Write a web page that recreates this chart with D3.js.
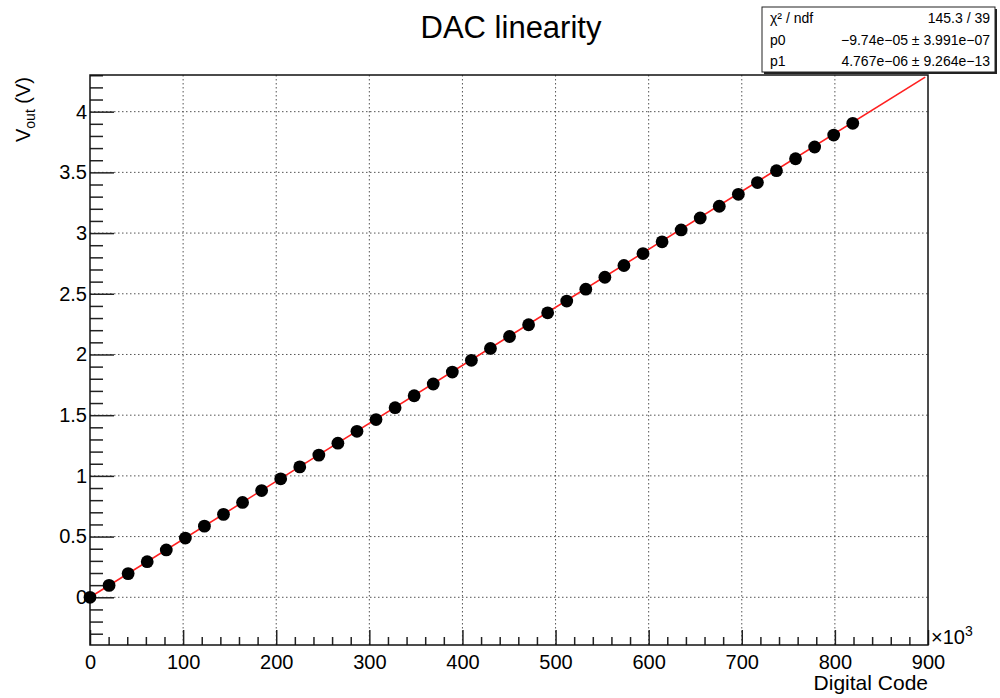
<!DOCTYPE html>
<html>
<head>
<meta charset="utf-8">
<script src="https://cdn.jsdelivr.net/npm/d3@7"></script>
<style>
  body { margin: 0; background: #fff; }
  text { font-family: "Liberation Sans", Arial, Helvetica, sans-serif; fill: #000; }
</style>
</head>
<body>
<div id="chart"></div>
<script>
// DAC codes (x1000) and measured output voltage
const codes = [0, 20.48, 40.96, 61.44, 81.92, 102.4, 122.88, 143.36, 163.84, 184.32,
  204.8, 225.28, 245.76, 266.24, 286.72, 307.2, 327.68, 348.16, 368.64, 389.12,
  409.6, 430.08, 450.56, 471.04, 491.52, 512, 532.48, 552.96, 573.44, 593.92,
  614.4, 634.88, 655.36, 675.84, 696.32, 716.8, 737.28, 757.76, 778.24, 798.72, 819.2];
const vout = [0, 0.098, 0.195, 0.293, 0.390, 0.488, 0.586, 0.683, 0.781, 0.879,
  0.976, 1.074, 1.171, 1.269, 1.367, 1.464, 1.562, 1.660, 1.757, 1.855,
  1.952, 2.050, 2.148, 2.245, 2.343, 2.440, 2.538, 2.636, 2.733, 2.831,
  2.928, 3.026, 3.124, 3.221, 3.319, 3.416, 3.514, 3.612, 3.709, 3.807, 3.904];
// fitted line end points
const fitX = [0, 897];
const fitY = [-0.0001, 4.285];
const xTicks = [0, 100, 200, 300, 400, 500, 600, 700, 800, 900];
const yTicks = [0, 0.5, 1, 1.5, 2, 2.5, 3, 3.5, 4];
const statLabels = ['χ² / ndf', 'p0', 'p1'];
const statValues = ['145.3 / 39', '−9.74e−05 ± 3.991e−07', '4.767e−06 ± 9.264e−13'];

const width = 1000, height = 698;
const mLeft = 90, mRight = 928, mTop = 75, mBottom = 645;

const svg = d3.select('#chart').append('svg')
  .attr('width', width)
  .attr('height', height)
  .style('background', '#fff');

const x = d3.scaleLinear().domain([0, 900]).range([mLeft, mRight]);
const y = d3.scaleLinear().domain([-0.393, 4.302]).range([mBottom, mTop]);

/**
 * grid
 */
const grid = svg.append('g')
  .attr('stroke', '#555')
  .attr('stroke-width', 1)
  .attr('stroke-dasharray', '1.5,2.5');
grid.selectAll('.gx').data(xTicks.slice(1, -1)).enter().append('line')
  .attr('x1', d => x(d)).attr('x2', d => x(d))
  .attr('y1', mTop).attr('y2', mBottom);
grid.selectAll('.gy').data(yTicks).enter().append('line')
  .attr('x1', mLeft).attr('x2', mRight)
  .attr('y1', d => y(d)).attr('y2', d => y(d));

/**
 * axes
 */
const xAxis = d3.axisBottom(x).tickValues(d3.range(0, 901, 20))
  .tickSize(0).tickFormat(d => (d % 100 === 0 ? d : ''));
const gx = svg.append('g').attr('transform', `translate(0,${mBottom})`).call(xAxis);
gx.select('.domain').remove();
gx.selectAll('.tick text').attr('dy', '1.05em').attr('font-size', 20);
gx.selectAll('.tick').append('line')
  .attr('y2', d => (d % 100 === 0 ? -15 : -8))
  .attr('stroke', '#222').attr('stroke-width', 1.5);

const yMinor = d3.range(-3, 44).map(i => i / 10);
const yAxis = d3.axisLeft(y).tickValues(yMinor).tickSize(0)
  .tickFormat(d => (Math.round(d * 10) % 5 === 0 ? d3.format('~g')(Math.round(d * 10) / 10) : ''));
const gy = svg.append('g').attr('transform', `translate(${mLeft},0)`).call(yAxis);
gy.select('.domain').remove();
gy.selectAll('.tick text').attr('x', -3).attr('font-size', 20);
gy.selectAll('.tick').append('line')
  .attr('x2', d => (Math.round(d * 10) % 5 === 0 ? 24 : 13))
  .attr('stroke', '#222').attr('stroke-width', 1.5);

// frame
svg.append('rect')
  .attr('x', mLeft).attr('y', mTop)
  .attr('width', mRight - mLeft).attr('height', mBottom - mTop)
  .attr('fill', 'none').attr('stroke', '#111').attr('stroke-width', 1.5);

/**
 * fit line and points
 */
svg.append('path')
  .datum(d3.zip(fitX, fitY))
  .attr('d', d3.line().x(d => x(d[0])).y(d => y(d[1])))
  .attr('stroke', '#ff2020').attr('stroke-width', 1.6).attr('fill', 'none');

svg.selectAll('.pt').data(d3.zip(codes, vout)).enter().append('circle')
  .attr('cx', d => x(d[0])).attr('cy', d => y(d[1]))
  .attr('r', 6.4).attr('fill', '#000');

/**
 * titles
 */
svg.append('text').attr('x', 511).attr('y', 38)
  .attr('text-anchor', 'middle').attr('font-size', 31).text('DAC linearity');

const yl = svg.append('text')
  .attr('transform', `translate(30,${mTop + 2}) rotate(-90)`)
  .attr('text-anchor', 'end').attr('font-size', 20);
yl.append('tspan').text('V');
yl.append('tspan').attr('font-size', 14).attr('dy', 5).text('out');
yl.append('tspan').attr('dy', -5).text(' (V)');

svg.append('text').attr('x', mRight).attr('y', 690)
  .attr('text-anchor', 'end').attr('font-size', 21).text('Digital Code');

const mult = svg.append('text').attr('x', 931).attr('y', 644).attr('font-size', 20);
mult.append('tspan').text('×10');
mult.append('tspan').attr('font-size', 14).attr('dy', -8).text('3');

/**
 * stats box
 */
const bx = 762, by = 7, bw = 233, bh = 65;
svg.append('rect').attr('x', bx + 2).attr('y', by + 2).attr('width', bw).attr('height', bh)
  .attr('fill', '#222');
svg.append('rect').attr('x', bx).attr('y', by).attr('width', bw).attr('height', bh)
  .attr('fill', '#fff').attr('stroke', '#222').attr('stroke-width', 1);

const rowY = d3.scaleBand().domain(d3.range(statLabels.length)).range([by, by + bh]);
svg.selectAll('.sl').data(statLabels).enter().append('text')
  .attr('x', bx + 8).attr('y', (d, i) => rowY(i) + rowY.bandwidth() / 2 + 5)
  .attr('font-size', 14).text(d => d);
svg.selectAll('.sv').data(statValues).enter().append('text')
  .attr('x', bx + bw - 5).attr('y', (d, i) => rowY(i) + rowY.bandwidth() / 2 + 5)
  .attr('text-anchor', 'end').attr('font-size', 14).text(d => d);
</script>
</body>
</html>
